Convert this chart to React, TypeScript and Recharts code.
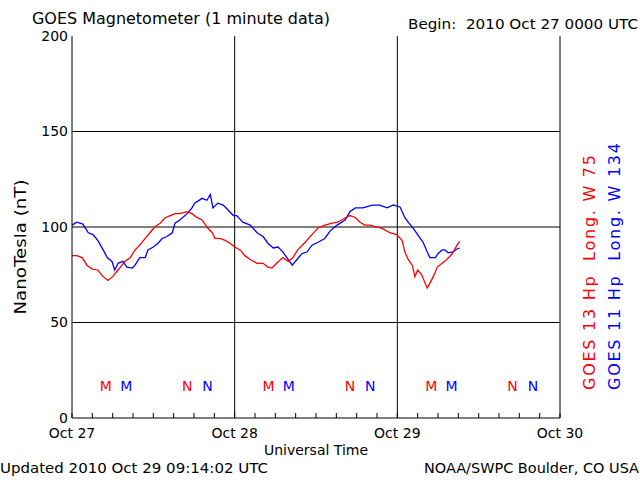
import React from 'react';
import { ComposedChart, Line, XAxis, YAxis, ReferenceLine, ReferenceDot } from 'recharts';

// GOES 13 (red) — hours since 2010 Oct 27 00:00 UTC, values in nT
const redHours = [0, 0.7, 1.5, 2.2, 3.0, 3.8, 4.6, 5.3, 6.0, 6.8, 7.8, 8.6, 9.3, 10.0, 10.8, 11.5, 12.2, 13.0, 13.7, 14.5, 15.2, 15.9, 17.0, 17.7, 18.4, 19.2, 19.9, 20.7, 21.1, 21.8, 22.6, 23.3, 24.0, 24.8, 25.5, 26.3, 27.3, 28.2, 28.9, 29.5, 30.2, 31.1, 31.9, 32.6, 33.3, 34.4, 35.4, 36.3, 37.3, 38.4, 39.2, 40.3, 41.0, 41.8, 42.5, 43.2, 44.0, 45.0, 45.9, 46.9, 47.9, 48.7, 49.1, 49.6, 50.2, 50.6, 51.0, 51.6, 52.4, 52.8, 53.3, 53.9, 54.6, 55.3, 56.1, 56.8, 57.2];
const redValues = [85, 85, 84, 80, 78, 77.5, 74, 72, 74, 77.5, 82, 84, 88, 90.5, 94, 97, 100, 102, 104.7, 106, 107, 107, 108, 107, 105, 103.7, 100, 97, 94, 94, 93, 91.5, 89.5, 88, 85, 83, 81, 81, 79, 78.5, 81, 84, 82, 84, 88, 92, 96, 99.5, 101, 102, 102.5, 104.7, 106, 105, 102.5, 101, 101, 100, 99, 97, 96, 93, 87, 83, 80, 74, 77.5, 75, 68, 70.5, 74, 79, 81, 83, 86, 90.5, 92.5];

// GOES 11 (blue)
const blueHours = [0, 0.7, 1.6, 2.4, 3.1, 3.8, 4.6, 5.2, 5.9, 6.3, 6.8, 7.5, 8.1, 8.9, 9.3, 10.0, 10.8, 11.2, 12.0, 12.7, 13.3, 14.0, 14.8, 15.2, 15.9, 17.0, 17.7, 18.1, 19.2, 19.9, 20.4, 20.8, 21.5, 22.3, 23.0, 23.8, 24.3, 25.2, 26.3, 27.3, 28.2, 28.9, 29.7, 30.4, 31.1, 31.7, 32.5, 33.2, 33.9, 34.7, 35.4, 36.3, 37.3, 38.1, 39.1, 40.3, 41.0, 41.8, 42.9, 44.3, 45.4, 46.5, 47.4, 48.4, 49.1, 49.6, 50.3, 51.0, 51.8, 52.4, 52.8, 53.6, 54.0, 54.6, 55.0, 55.5, 56.2, 56.8, 57.2];
const blueValues = [101, 102.5, 101.5, 97, 96, 93, 88, 84, 82, 77.5, 81, 82, 79, 78.5, 80, 84, 84, 88, 89.5, 91.5, 94, 95, 97, 102, 103.7, 107, 110, 112.5, 115, 114, 117, 110, 112.5, 111.5, 109, 106, 106, 102.5, 101, 97, 95, 91.5, 89, 89.5, 87, 84, 80, 83, 86, 87, 90.5, 92, 94, 98, 101, 103.7, 108, 110, 110, 111.5, 111.5, 110, 111.5, 110.5, 105, 102.5, 99.5, 96, 92, 87, 84, 84, 86, 88, 88, 86.5, 87, 88.5, 89];

// Local midnight (M) and noon (N) markers, hours UT
const redM = [5, 29, 53];
const blueM = [8, 32, 56];
const redN = [17, 41, 65];
const blueN = [20, 44, 68];
const markerLevel = 17;

const xTicks = [0, 3, 6, 9, 12, 15, 18, 21, 24, 27, 30, 33, 36, 39, 42, 45, 48, 51, 54, 57, 60, 63, 66, 69, 72];
const dayLabels: Record<number, string> = { 0: 'Oct 27', 24: 'Oct 28', 48: 'Oct 29', 72: 'Oct 30' };
const yTicks = [0, 50, 100, 150, 200];
const gridHours = [24, 48];
const gridValues = [50, 100, 150];

const redData = redHours.map((t, i) => ({ t, v: redValues[i] }));
const blueData = blueHours.map((t, i) => ({ t, v: blueValues[i] }));

const FONT = 'DejaVu Sans';
const RED = '#ff0000';
const BLUE = '#0000ff';

const BottomTick = (props: any) => {
  const { x, y, payload } = props;
  const label = dayLabels[payload.value];
  return (
    <g>
      <line x1={x} y1={y} x2={x} y2={y - 5} stroke="#000" strokeWidth={1} />
      {label && (
        <text x={x} y={y + 20} textAnchor="middle" fontFamily={FONT} fontSize={14} fill="#000">
          {label}
        </text>
      )}
    </g>
  );
};

const TopTick = (props: any) => {
  const { x, y } = props;
  return <line x1={x} y1={y} x2={x} y2={y + 5} stroke="#000" strokeWidth={1} />;
};

const markerLabel = (letter: string, color: string) => ({
  value: letter,
  position: 'center' as const,
  fill: color,
  fontSize: 14,
  fontFamily: FONT,
});

export default function App() {
  return (
    <div style={{ position: 'absolute', left: 0, top: 0, width: 640, height: 480, background: '#fff' }}>
      <ComposedChart width={640} height={480} margin={{ top: 36, right: 80, bottom: 0, left: 32 }}>
        <XAxis
          xAxisId="bottom"
          dataKey="t"
          type="number"
          domain={[0, 72]}
          ticks={xTicks}
          interval={0}
          height={62}
          tickSize={0}
          tickMargin={0}
          tickLine={false}
          axisLine={{ stroke: '#000', strokeWidth: 1 }}
          tick={<BottomTick />}
          allowDataOverflow
        />
        <XAxis
          xAxisId="top"
          orientation="top"
          dataKey="t"
          type="number"
          domain={[0, 72]}
          ticks={xTicks}
          interval={0}
          height={0}
          tickSize={0}
          tickMargin={0}
          tickLine={false}
          axisLine={{ stroke: '#000', strokeWidth: 1 }}
          tick={<TopTick />}
        />
        <YAxis
          yAxisId="left"
          type="number"
          domain={[0, 200]}
          ticks={yTicks}
          interval={0}
          width={40}
          tickSize={0}
          tickMargin={4}
          tickLine={false}
          axisLine={{ stroke: '#000', strokeWidth: 1 }}
          tick={{ fill: '#000', fontSize: 14, fontFamily: FONT }}
          allowDataOverflow
        />
        <ReferenceLine xAxisId="bottom" yAxisId="left" x={72} stroke="#000" strokeWidth={1} />
        {gridHours.map((h) => (
          <ReferenceLine key={'gx' + h} xAxisId="bottom" yAxisId="left" x={h} stroke="#000" strokeWidth={1} />
        ))}
        {gridValues.map((v) => (
          <ReferenceLine key={'gy' + v} xAxisId="bottom" yAxisId="left" y={v} stroke="#000" strokeWidth={1} />
        ))}
        <Line
          xAxisId="bottom"
          yAxisId="left"
          data={blueData}
          dataKey="v"
          stroke={BLUE}
          strokeWidth={1.3}
          dot={false}
          type="linear"
          isAnimationActive={false}
        />
        <Line
          xAxisId="bottom"
          yAxisId="left"
          data={redData}
          dataKey="v"
          stroke={RED}
          strokeWidth={1.3}
          dot={false}
          type="linear"
          isAnimationActive={false}
        />
        {redM.map((t, i) => (
          <ReferenceDot key={'rm' + i} xAxisId="bottom" yAxisId="left" x={t} y={markerLevel} r={0} fill="none" stroke="none"
            label={markerLabel('M', RED)} />
        ))}
        {blueM.map((t, i) => (
          <ReferenceDot key={'bm' + i} xAxisId="bottom" yAxisId="left" x={t} y={markerLevel} r={0} fill="none" stroke="none"
            label={markerLabel('M', BLUE)} />
        ))}
        {redN.map((t, i) => (
          <ReferenceDot key={'rn' + i} xAxisId="bottom" yAxisId="left" x={t} y={markerLevel} r={0} fill="none" stroke="none"
            label={markerLabel('N', RED)} />
        ))}
        {blueN.map((t, i) => (
          <ReferenceDot key={'bn' + i} xAxisId="bottom" yAxisId="left" x={t} y={markerLevel} r={0} fill="none" stroke="none"
            label={markerLabel('N', BLUE)} />
        ))}
      </ComposedChart>
      <svg
        width={640}
        height={480}
        style={{ position: 'absolute', left: 0, top: 0, pointerEvents: 'none' }}
        fontFamily={FONT}
      >
        <text x={32} y={24} fontSize={15} fill="#000" textLength={298} lengthAdjust="spacingAndGlyphs">
          GOES Magnetometer (1 minute data)
        </text>
        <text x={408} y={29} fontSize={14} fill="#000" textLength={230} lengthAdjust="spacingAndGlyphs" style={{ whiteSpace: 'pre' }}>
          {'Begin:  2010 Oct 27 0000 UTC'}
        </text>
        <text x={26} y={247} fontSize={16} fill="#000" textAnchor="middle" transform="rotate(-90 26 247)" textLength={135} lengthAdjust="spacingAndGlyphs">
          NanoTesla (nT)
        </text>
        <text x={316} y={455} fontSize={14} fill="#000" textAnchor="middle">
          Universal Time
        </text>
        <text x={0} y={473} fontSize={14} fill="#000" textLength={268} lengthAdjust="spacingAndGlyphs">
          Updated 2010 Oct 29 09:14:02 UTC
        </text>
        <text x={424} y={473} fontSize={14} fill="#000" textLength={215} lengthAdjust="spacingAndGlyphs">
          NOAA/SWPC Boulder, CO USA
        </text>
        <text x={595} y={390} fontSize={16} fill={RED} transform="rotate(-90 595 390)" textLength={235} lengthAdjust="spacing" style={{ whiteSpace: 'pre' }}>
          {'GOES 13 Hp  Long. W 75'}
        </text>
        <text x={620} y={390} fontSize={16} fill={BLUE} transform="rotate(-90 620 390)" textLength={247} lengthAdjust="spacing" style={{ whiteSpace: 'pre' }}>
          {'GOES 11 Hp  Long. W 134'}
        </text>
      </svg>
    </div>
  );
}
